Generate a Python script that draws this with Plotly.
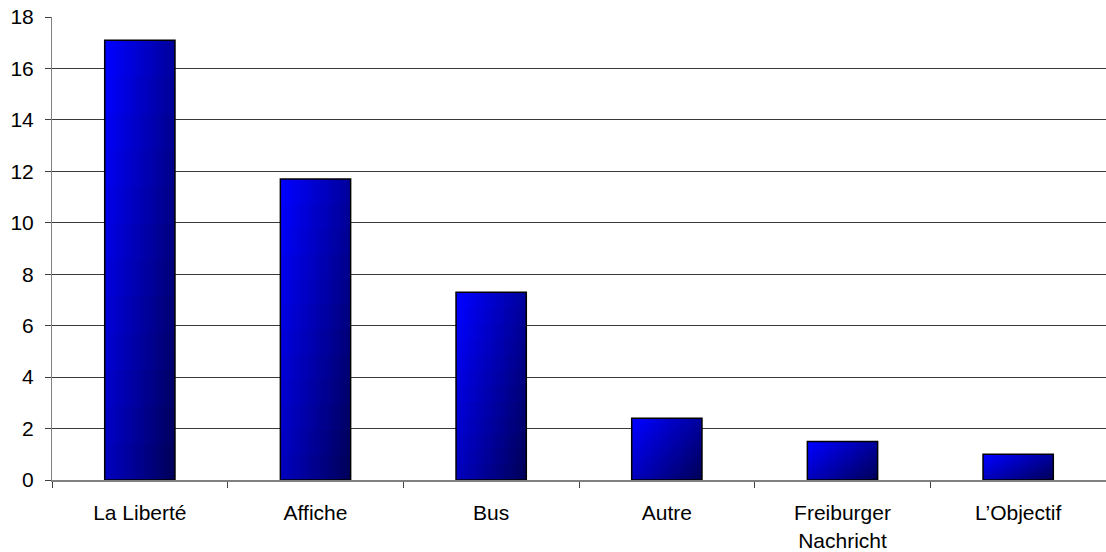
import plotly.graph_objects as go

# Survey results by source
categories = ["La Liberté", "Affiche", "Bus", "Autre", "Freiburger<br>Nachricht", "L’Objectif"]
values = [17.1, 11.7, 7.3, 2.4, 1.5, 1.0]

positions = list(range(len(categories)))
bar_width = 0.40
n_cols = 16   # horizontal slices per bar
n_rows = 12   # vertical slices per bar


def blend(c1, c2, t):
    return "rgb({},{},{})".format(*[round(a + (b - a) * t) for a, b in zip(c1, c2)])


light = (0, 0, 255)
dark = (0, 0, 92)

fig = go.Figure()

# Diagonal colour ramp (bright top-left to dark bottom-right) built from
# small overlapping tiles of each bar; later tiles cover the overlap.
col_step = bar_width / n_cols
for j in range(n_rows):            # j = 0 is the bottom row
    v = 1 - j / (n_rows - 1)       # 1 at the bottom, 0 at the top
    h_frac = 1 / n_rows if j == n_rows - 1 else 1.6 / n_rows
    heights = [val * h_frac for val in values]
    bases = [val * j / n_rows for val in values]
    for k in range(n_cols):
        u = k / (n_cols - 1)
        w = col_step if k == n_cols - 1 else col_step * 1.6
        fig.add_trace(go.Bar(
            x=positions, y=heights, base=bases,
            width=w, offset=-bar_width / 2 + k * col_step,
            marker=dict(color=blend(light, dark, 0.6 * u + 0.4 * v), line=dict(width=0)),
            hoverinfo="skip", showlegend=False,
        ))

# Outline of each bar
fig.add_trace(go.Bar(
    x=positions, y=values, width=bar_width,
    marker=dict(color="rgba(0,0,0,0)", line=dict(color="black", width=1.5)),
    showlegend=False,
))

font = dict(family="Liberation Sans, Arial, sans-serif", size=21, color="black")

fig.update_layout(
    width=1106, height=552,
    margin=dict(l=52, r=0, t=17, b=72),
    barmode="overlay",
    plot_bgcolor="white", paper_bgcolor="white",
    font=font,
    xaxis=dict(
        range=[-0.5, len(categories) - 0.5],
        tickvals=positions, ticktext=categories,
        ticks="", showgrid=False,
        showline=True, linecolor="#808080", linewidth=2,
        minor=dict(tickvals=[p - 0.5 for p in positions] + [len(categories) - 0.5],
                   ticks="outside", ticklen=6, tickcolor="#404040", tickwidth=1, showgrid=False),
        ticklabelstandoff=13,
        fixedrange=True,
    ),
    yaxis=dict(
        range=[0, 18], dtick=2,
        showgrid=True, gridcolor="#3a3a3a", gridwidth=1,
        showline=True, linecolor="#808080", linewidth=1,
        ticks="outside", ticklen=6, tickcolor="#404040",
        ticklabelstandoff=7,
        zeroline=False,
        fixedrange=True,
    ),
)

fig.write_html("out.html")
